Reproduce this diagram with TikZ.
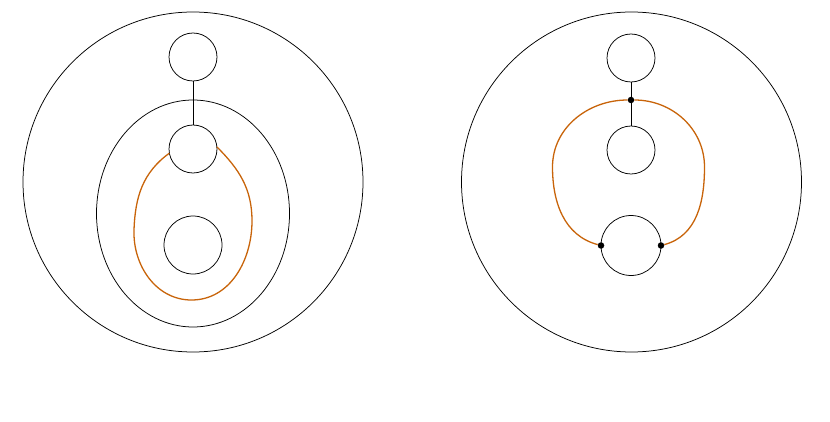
\documentclass[tikz,border=0pt]{standalone}
\usepackage{tikz}
\usetikzlibrary{positioning}

\definecolor{loopcol}{RGB}{200,100,10}

\begin{document}
\begin{tikzpicture}[x=1pt,y=1pt,node distance=92pt,on grid,
  hole/.style={circle,draw,line width=0.75pt,inner sep=0pt,outer sep=0pt,minimum size=48pt},
  bighole/.style={hole,minimum size=58pt},
  dot/.style={circle,fill=black,inner sep=0pt,minimum size=6.5pt},
  loopline/.style={draw=loopcol,line width=1.3pt}]
  \useasboundingbox (0,0) rectangle (830,421);
  % left picture
  \draw[line width=0.75pt] (193,239) circle[radius=170];
  \draw[line width=0.75pt] (193,207.5) ellipse[x radius=96.5,y radius=113.5];
  \node[hole] (t1) at (193,364) {};
  \node[hole] (m1) [below = of t1] {};
  \node[bighole] (b1) [below = 96pt of m1] {};
  \draw[line width=0.75pt] (t1) -- (m1);
  \path[loopline]
  (m1.190) to[out=216,in=88] (134,191)
  to[out=-92,in=180] (191.5,121)
  to[out=0,in=-90] (252,200)
  to[out=90,in=-45] (m1.5);
  % right picture
  \draw[line width=0.75pt] (631.5,239) circle[radius=170];
  \node[hole] (t2) at (631,363) {};
  \node[hole] (m2) [below = of t2] {};
  \node[bighole,minimum size=60pt] (b2) [below = 95.5pt of m2] {};
  \draw[line width=0.75pt] (t2) -- (m2);
  \node[dot] (d0) [below = 42pt of t2] {};
  \node[dot] (d1) at (b2.west) {};
  \node[dot] (d2) at (b2.east) {};
  \path[loopline]
  (d1) to[out=165,in=-90] (552.5,254)
  to[out=90,in=180] (d0)
  to[out=0,in=90] (704.5,254)
  to[out=-90,in=15] (d2);
\end{tikzpicture}
\end{document}
